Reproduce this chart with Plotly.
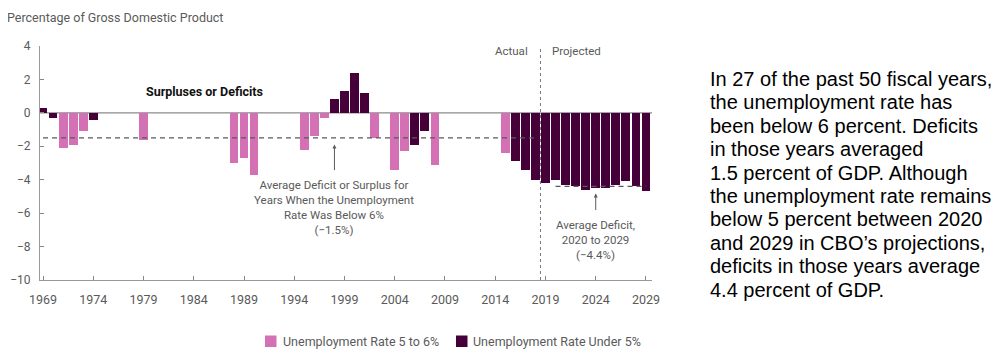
import plotly.graph_objects as go

# ---- data ----
pink_years = [1971, 1972, 1973, 1979, 1988, 1989, 1990, 1995, 1996, 1997, 2002, 2004, 2005, 2008, 2015]
pink_vals = [-2.1, -1.9, -1.1, -1.6, -3.0, -2.7, -3.7, -2.2, -1.4, -0.3, -1.5, -3.4, -2.3, -3.1, -2.4]
dark_years = [1969, 1970, 1974, 1998, 1999, 2000, 2001, 2006, 2007, 2016, 2017, 2018,
              2019, 2020, 2021, 2022, 2023, 2024, 2025, 2026, 2027, 2028, 2029]
dark_vals = [0.3, -0.3, -0.4, 0.8, 1.3, 2.4, 1.2, -1.9, -1.1, -2.9, -3.4, -4.0,
             -4.2, -4.0, -4.3, -4.4, -4.6, -4.5, -4.5, -4.3, -4.1, -4.4, -4.7]
series_names = ["Unemployment Rate 5 to 6%", "Unemployment Rate Under 5%"]
avg_below6 = -1.5
avg_below6_span = [1969, 2018]
avg_proj = -4.4
avg_proj_span = [2020, 2029]
split_year = 2018.5
x_ticks = list(range(1969, 2030, 5))
y_ticks = [4, 2, 0, -2, -4, -6, -8, -10]
side_lines = [
    "In 27 of the past 50 fiscal years,",
    "the unemployment rate has",
    "been below 6 percent. Deficits",
    "in those years averaged",
    "1.5 percent of GDP. Although",
    "the unemployment rate remains",
    "below 5 percent between 2020",
    "and 2029 in CBO’s projections,",
    "deficits in those years average",
    "4.4 percent of GDP.",
]

PINK = "#D471B4"
DARK = "#45003A"
GRAY = "#5a5a5a"
FONT = "Roboto"

# page-pixel -> paper helpers (plot area: x 40..652, y 46..280 on the page)
PL, PR, PT, PB = 40, 652, 46, 280
def px(x):
    return (x - PL) / (PR - PL)
def py(y):
    return (PB - y) / (PB - PT)

fig = go.Figure()
fig.add_trace(go.Bar(x=pink_years, y=pink_vals, name=series_names[0], showlegend=False,
                     marker=dict(color=PINK, line=dict(width=0)), width=0.88))
fig.add_trace(go.Bar(x=dark_years, y=dark_vals, name=series_names[1], showlegend=False,
                     marker=dict(color=DARK, line=dict(width=0)), width=0.88))

# average dashed lines
for span, val in [(avg_below6_span, avg_below6), (avg_proj_span, avg_proj)]:
    fig.add_trace(go.Scatter(x=span, y=[val, val], mode="lines",
                             line=dict(color=GRAY, width=1.3, dash="5px,4px"), showlegend=False,
                             hoverinfo="skip"))

# zero line
fig.add_hline(y=0, line=dict(color="#8a8a8a", width=1.2), layer="below")
# actual / projected divider
fig.add_shape(type="line", x0=split_year, x1=split_year, xref="x", yref="paper", y0=0, y1=1.0,
              line=dict(color="#777", width=1, dash="dot"))

ann_font = dict(family=FONT, size=11.5, color=GRAY)
fig.add_annotation(x=split_year, y=3.7, xref="x", yref="y", text="Actual", showarrow=False,
                   xanchor="right", xshift=-10, font=ann_font)
fig.add_annotation(x=split_year, y=3.7, xref="x", yref="y", text="Projected", showarrow=False,
                   xanchor="left", xshift=10, font=ann_font)

fig.add_annotation(x=1985.1, y=1.27, xref="x", yref="y", text="<b>Surpluses or Deficits</b>",
                   showarrow=False, font=dict(family=FONT, size=12.5, color="#111"))

# arrows + notes
fig.add_annotation(x=1998, y=-1.9, xref="x", yref="y", text="", showarrow=True,
                   ax=0, ay=27, arrowhead=2, arrowsize=0.8, arrowwidth=1, arrowcolor=GRAY)
fig.add_annotation(x=1998, y=-3.8, xref="x", yref="y",
                   text="Average Deficit or Surplus for<br>Years When the Unemployment<br>Rate Was Below 6%<br>(−1.5%)",
                   showarrow=False, yanchor="top", align="center", font=ann_font)
fig.add_annotation(x=2024, y=-4.83, xref="x", yref="y", text="", showarrow=True,
                   ax=0, ay=18, arrowhead=2, arrowsize=0.8, arrowwidth=1, arrowcolor=GRAY)
fig.add_annotation(x=2024, y=-6.2, xref="x", yref="y",
                   text="Average Deficit,<br>2020 to 2029<br>(−4.4%)",
                   showarrow=False, yanchor="top", align="center", font=ann_font)

# axis title
fig.add_annotation(x=px(5), y=py(17), xref="paper", yref="paper",
                   text="Percentage of Gross Domestic Product", showarrow=False,
                   xanchor="left", yanchor="middle", font=dict(family=FONT, size=12.5, color=GRAY))

# manual legend
for (x0, col, name, tx) in [(265, PINK, series_names[0], 281), (456, DARK, series_names[1], 471)]:
    fig.add_shape(type="rect", xref="paper", yref="paper", x0=px(x0), x1=px(x0 + 11.5),
                  y0=py(347), y1=py(335.5), fillcolor=col, line=dict(width=0))
    fig.add_annotation(x=px(tx), y=py(341), xref="paper", yref="paper", text=name,
                       showarrow=False, xanchor="left", yanchor="middle",
                       font=dict(family=FONT, size=12.5, color=GRAY))

# right-side text, one line each
for i, line in enumerate(side_lines):
    fig.add_annotation(x=px(708), y=py(79 + 23.4 * i), xref="paper", yref="paper", text=line,
                       showarrow=False, xanchor="left", yanchor="middle",
                       font=dict(family="Liberation Sans, Arial", size=20, color="#000"))

fig.update_layout(
    width=992, height=355,
    margin=dict(l=PL - 8, r=992 - (PR - 8), t=PT - 8, b=355 - (PB - 8)),
    paper_bgcolor="white", plot_bgcolor="white",
    barmode="overlay", bargap=0, showlegend=False,
    font=dict(family=FONT, size=12, color=GRAY),
    xaxis=dict(range=[1968.7, 2029.6], tickvals=x_ticks, ticks="inside", ticklen=4,
               tickcolor="#888", showline=True, linecolor="#999", linewidth=1.2,
               showgrid=False, zeroline=False, tickfont=dict(size=12.5, color=GRAY),
               ticklabelstandoff=8, automargin=False),
    yaxis=dict(range=[-10, 4], tickvals=y_ticks, ticks="inside", ticklen=4,
               tickcolor="#888", showline=True, linecolor="#999", linewidth=1.2,
               showgrid=False, zeroline=False, tickfont=dict(size=12, color=GRAY),
               ticklabelstandoff=6, automargin=False),
)

fig.write_html("out.html")
